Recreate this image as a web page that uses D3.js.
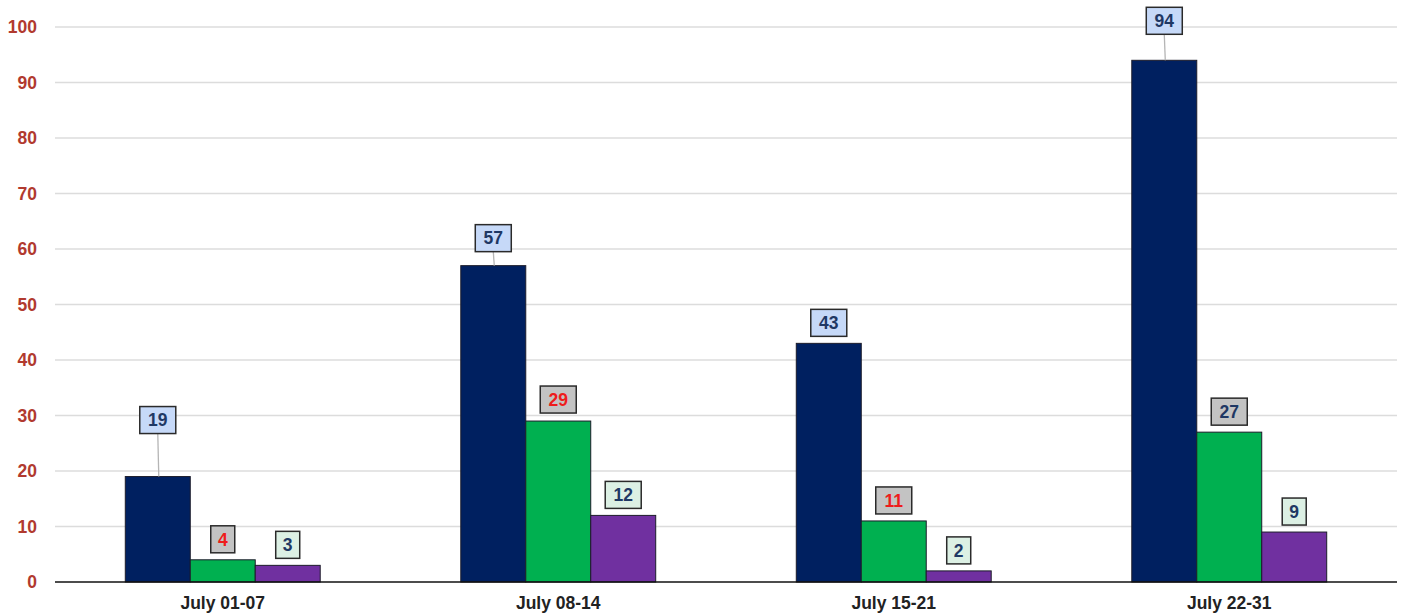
<!DOCTYPE html>
<html lang="en">
<head>
<meta charset="UTF-8">
<title>July weekly counts</title>
<style>
  body { margin: 0; background: #fff; }
  text { font-family: "Liberation Sans", Arial, sans-serif; font-weight: bold; }
</style>
</head>
<body>
<div id="chart"></div>
<script src="https://d3js.org/d3.v7.min.js"></script>
<script>
const W = 1408, H = 616;

const categories = ["July 01-07", "July 08-14", "July 15-21", "July 22-31"];
const seriesA = [19, 57, 43, 94];
const seriesB = [4, 29, 11, 27];
const seriesC = [3, 12, 2, 9];
const yTicks = [0, 10, 20, 30, 40, 50, 60, 70, 80, 90, 100];

// styling for bars and their label boxes
const barColors = ["#002060", "#00b050", "#7030a0"];
const boxFill = ["#c6d9f8", "#c3c3c3", "#dcf0e4"];
const textColor = [
  ["#1f3864", "#1f3864", "#1f3864", "#1f3864"],
  ["#ee1c1c", "#ee1c1c", "#ee1c1c", "#1f3864"],
  ["#1f3864", "#1f3864", "#1f3864", "#1f3864"]
];
// gap between bar top and label box bottom (px)
const labelLift = [
  [43, 14, 7, 26],
  [7, 8, 7, 7],
  [7, 7, 7, 7]
];

const plotLeft = 55, plotRight = 1397, plotTop = 27, plotBottom = 582;

const svg = d3.select("#chart").append("svg")
  .attr("width", W).attr("height", H);

const x0 = d3.scaleBand().domain(categories)
  .range([plotLeft, plotRight]).paddingInner(0.419).paddingOuter(0.2095);
const x1 = d3.scaleBand().domain([0, 1, 2]).range([0, x0.bandwidth()]);
const y = d3.scaleLinear().domain([0, 100]).range([plotBottom, plotTop]);

// gridlines
svg.append("g").selectAll("line")
  .data(yTicks.filter(d => d > 0))
  .join("line")
  .attr("x1", plotLeft).attr("x2", plotRight)
  .attr("y1", d => y(d)).attr("y2", d => y(d))
  .attr("stroke", "#dcdcdc").attr("stroke-width", 1.3);

// y tick labels
svg.append("g").selectAll("text")
  .data(yTicks)
  .join("text")
  .attr("x", 37).attr("y", d => y(d))
  .attr("dy", "0.35em")
  .attr("text-anchor", "end")
  .attr("font-size", 17.5)
  .attr("fill", "#b13a2f")
  .text(d => d);

const series = [seriesA, seriesB, seriesC];
const rows = [];
categories.forEach((c, i) => {
  series.forEach((s, k) => rows.push({ c, i, k, v: s[i] }));
});

svg.append("g").selectAll("rect")
  .data(rows)
  .join("rect")
  .attr("x", d => x0(d.c) + x1(d.k))
  .attr("y", d => y(d.v))
  .attr("width", x1.bandwidth())
  .attr("height", d => y(0) - y(d.v))
  .attr("fill", d => barColors[d.k])
  .attr("stroke", "#1c1c2a")
  .attr("stroke-width", 1);

// baseline
svg.append("line")
  .attr("x1", plotLeft).attr("x2", plotRight)
  .attr("y1", plotBottom).attr("y2", plotBottom)
  .attr("stroke", "#111").attr("stroke-width", 1.5);

// x labels
svg.append("g").selectAll("text")
  .data(categories)
  .join("text")
  .attr("x", d => x0(d) + x0.bandwidth() / 2)
  .attr("y", 603)
  .attr("dy", "0.35em")
  .attr("text-anchor", "middle")
  .attr("font-size", 17.5)
  .attr("fill", "#222")
  .text(d => d);

// data labels
const lab = svg.append("g").selectAll("g")
  .data(rows)
  .join("g")
  .attr("transform", d => {
    const cx = x0(d.c) + x1(d.k) + x1.bandwidth() / 2;
    return `translate(${cx},${y(d.v) - labelLift[d.k][d.i]})`;
  });

lab.filter(d => labelLift[d.k][d.i] > 10)
  .append("line")
  .attr("x1", 0).attr("x2", 1)
  .attr("y1", 0).attr("y2", d => labelLift[d.k][d.i])
  .attr("stroke", "#b5b5b5").attr("stroke-width", 1.3);

lab.append("rect")
  .attr("x", d => -(String(d.v).length > 1 ? 18 : 12))
  .attr("y", -27)
  .attr("width", d => String(d.v).length > 1 ? 36 : 24)
  .attr("height", 27)
  .attr("fill", d => boxFill[d.k])
  .attr("stroke", "#2a2a2a")
  .attr("stroke-width", 1.5);

lab.append("text")
  .attr("x", 0).attr("y", -13.5)
  .attr("dy", "0.36em")
  .attr("text-anchor", "middle")
  .attr("font-size", 17.5)
  .attr("fill", d => textColor[d.k][d.i])
  .text(d => d.v);
</script>
</body>
</html>
